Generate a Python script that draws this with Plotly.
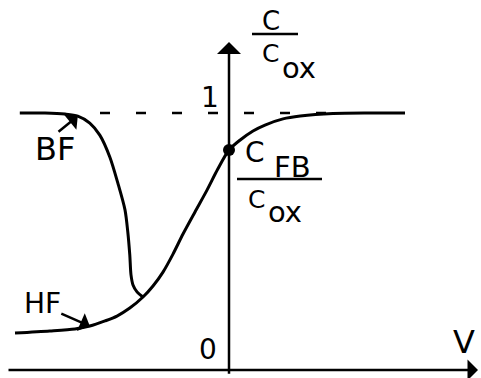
import plotly.graph_objects as go

# Normalised MOS capacitance C/Cox versus gate voltage V (arbitrary volts)
hf_v = [-5.35, -4.48, -3.85, -3.48, -3.10, -2.80, -2.48, -2.15, -1.90, -1.65,
        -1.40, -1.15, -0.85, -0.55, -0.28, 0.00, 0.28, 0.60, 0.90, 1.35,
        1.78, 2.60, 3.53, 4.40]
hf_c = [0.144, 0.152, 0.160, 0.171, 0.191, 0.210, 0.241, 0.284, 0.327, 0.381,
        0.451, 0.529, 0.615, 0.700, 0.782, 0.856, 0.895, 0.930, 0.953, 0.977,
        0.988, 0.998, 1.000, 1.000]

# Low-frequency (BF) branch, joining the HF curve in depletion
bf_v = [-5.23, -4.60, -4.10, -3.78, -3.48, -3.23, -2.98, -2.78, -2.60, -2.53,
        -2.48, -2.45, -2.40, -2.30, -2.15]
bf_c = [1.000, 1.000, 0.996, 0.988, 0.961, 0.914, 0.829, 0.728, 0.623, 0.537,
        0.447, 0.370, 0.331, 0.304, 0.284]

# Flat-band point
v_fb = [0.0]
c_fb = [0.856]

INK = "black"
FONT = "DejaVu Sans"

fig = go.Figure()

# C/Cox = 1 reference
fig.add_shape(type="line", xref="x", yref="y", x0=-3.225, x1=2.6, y0=1.0, y1=1.0,
              line=dict(color=INK, width=2.5, dash="10px,26px"), layer="below")

fig.add_trace(go.Scatter(x=bf_v, y=bf_c, mode="lines",
                         line=dict(color=INK, width=3, shape="spline", smoothing=0.8),
                         hoverinfo="skip", showlegend=False))
fig.add_trace(go.Scatter(x=hf_v, y=hf_c, mode="lines",
                         line=dict(color=INK, width=3, shape="spline", smoothing=0.8),
                         hoverinfo="skip", showlegend=False))
fig.add_trace(go.Scatter(x=v_fb, y=c_fb, mode="markers",
                         marker=dict(color=INK, size=12),
                         hoverinfo="skip", showlegend=False))

ann = []

def arrow(x, y, ax, ay, size=1.2, width=2.5):
    ann.append(dict(x=x, y=y, ax=ax, ay=ay, xref="x", yref="y", axref="x", ayref="y",
                    text="", showarrow=True, arrowhead=1, arrowsize=size,
                    arrowwidth=width, arrowcolor=INK))

def label(x, y, text, size):
    ann.append(dict(x=x, y=y, xref="x", yref="y", text=text, showarrow=False,
                    xanchor="center", yanchor="middle",
                    font=dict(family=FONT, size=size, color=INK)))

# Axes drawn as arrows through the origin
arrow(0.0, 1.276, 0.0, -0.02, size=1.6, width=2.5)
arrow(6.225, 0.0, -5.55, 0.0, size=1.4, width=2.5)

# Pointers to the two curves
arrow(-3.78, 0.988, -4.30, 0.922, size=1.3, width=2.5)
arrow(-3.48, 0.171, -4.23, 0.222, size=1.3, width=2.5)

label(-4.35, 0.86, "BF", 32)
label(-4.675, 0.257, "HF", 28)
label(-0.525, 0.078, "0", 28)
label(-0.475, 1.062, "1", 28)
label(5.875, 0.109, "V", 32)

# Axis title C / Cox
label(1.05, 1.358, "C", 26)
label(1.025, 1.233, "C", 25)
label(1.75, 1.175, "ox", 29)

# Flat-band label C_FB / Cox
label(0.65, 0.848, "C", 28)
label(1.575, 0.79, "FB", 29)
label(0.675, 0.665, "C", 25)
label(1.40, 0.615, "ox", 29)

# Fraction bars
fig.add_shape(type="line", xref="x", yref="y", x0=0.575, x1=1.725, y0=1.307, y1=1.307,
              line=dict(color=INK, width=2.5))
fig.add_shape(type="line", xref="x", yref="y", x0=0.2, x1=2.325, y0=0.743, y1=0.743,
              line=dict(color=INK, width=2.5))

fig.update_layout(
    width=481, height=378,
    margin=dict(l=0, r=0, t=0, b=0),
    paper_bgcolor="white", plot_bgcolor="white",
    xaxis=dict(range=[-5.725, 6.3], visible=False, fixedrange=True),
    yaxis=dict(range=[-0.0311, 1.4397], visible=False, fixedrange=True),
    annotations=ann,
    showlegend=False,
)

fig.write_html("out.html")
